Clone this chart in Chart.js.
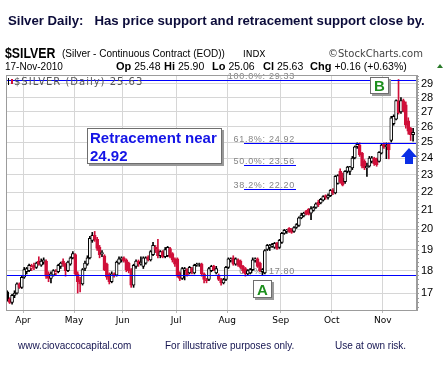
<!DOCTYPE html>
<html>
<head>
<meta charset="utf-8">
<script src="https://cdn.jsdelivr.net/npm/chart.js@4.4.1/dist/chart.umd.min.js"></script>
<style>
  html, body { margin: 0; padding: 0; background: #fff; }
  canvas { display: block; }
</style>
</head>
<body>
<canvas id="silverChart" width="445" height="370"></canvas>
<script>
// daily bars, 23-Mar-2010 .. 17-Nov-2010
const opens = [
  17.05,16.75,16.6,16.9,17.0,17.4,17.25,
  17.7,17.95,18.0,18.1,18.25,18.15,18.45,18.25,18.4,18.45,17.85,17.65,17.8,17.9,17.95,18.2,18.45,18.3,18.0,18.3,18.6,
  18.75,17.85,17.6,17.4,18.1,18.3,18.6,19.45,19.7,19.5,19.1,18.8,18.7,18.3,17.85,17.5,17.85,17.8,18.35,18.5,
  18.6,18.5,18.35,18.05,17.35,18.2,18.45,18.3,18.2,18.35,18.65,18.5,18.75,19.1,19.0,18.7,18.9,18.65,18.7,19.05,18.8,18.55,
  18.55,17.9,17.65,18.0,18.05,17.9,18.1,17.9,18.25,18.3,18.3,17.85,17.6,17.6,18.0,18.2,17.9,17.8,17.6,17.45,17.6,
  18.15,18.5,18.6,18.3,18.5,18.45,18.2,18.1,17.85,17.9,18.05,18.5,18.55,18.35,17.95,17.9,19.0,19.1,19.15,19.1,19.3,19.1,
  19.35,19.8,19.9,20.05,19.95,19.9,20.1,20.2,20.6,20.7,20.95,21.05,20.85,21.0,21.15,21.45,21.4,21.55,21.8,21.7,21.8,
  22.1,21.95,22.5,23.2,22.8,22.6,23.2,23.2,23.4,24.0,24.7,24.8,24.3,23.8,23.4,23.5,23.8,24.0,23.95,23.8,24.3,
  24.85,24.7,24.9,25.1,26.2,26.5,27.75,27.0,27.8,27.5,26.4,25.9,25.48
];
const highs = [
  17.1,16.8,16.95,17.1,17.45,17.45,17.75,
  18.15,18.15,18.3,18.3,18.35,18.4,18.65,18.55,18.6,18.5,17.95,17.95,18.05,18.05,18.3,18.4,18.55,18.35,18.45,18.65,18.9,
  18.8,17.95,17.7,18.1,18.45,18.7,19.65,19.85,19.9,19.6,19.2,18.95,18.75,18.35,17.9,17.95,17.9,18.45,18.65,18.65,
  18.65,18.55,18.4,18.1,18.3,18.5,18.5,18.65,18.65,18.65,18.7,18.95,19.35,19.2,19.5,18.95,18.95,19.1,19.15,19.1,18.85,18.6,
  18.6,17.95,18.15,18.15,18.1,18.2,18.15,18.3,18.35,18.35,18.35,17.9,17.65,18.15,18.25,18.25,18.2,17.85,17.65,17.65,18.2,
  18.6,18.6,18.7,18.6,18.55,18.5,18.25,18.15,18.05,18.1,18.6,18.6,18.6,18.4,18.1,19.0,19.25,19.25,19.3,19.35,19.35,19.5,
  19.85,20.0,20.0,20.1,20.05,20.15,20.3,20.65,20.85,20.9,21.0,21.1,21.2,21.2,21.4,21.55,21.65,21.8,21.85,21.9,22.15,
  22.2,22.95,23.0,23.35,23.1,23.25,23.5,23.5,24.1,24.75,24.95,24.95,24.35,23.9,23.7,24.1,24.1,24.05,24.0,24.4,24.9,
  24.95,24.95,24.95,26.7,26.8,27.85,29.33,28.0,27.9,27.7,26.6,25.95,25.9
];
const lows = [
  16.65,16.55,16.52,16.8,16.95,17.2,17.2,
  17.65,17.85,17.95,18.0,18.05,18.1,18.25,18.2,18.3,17.65,17.5,17.45,17.75,17.8,17.9,18.1,18.2,17.75,17.95,18.25,18.55,
  17.8,17.0,17.05,17.35,18.0,18.25,18.55,19.35,19.4,18.95,18.6,18.65,18.0,17.6,17.4,17.45,17.7,17.75,18.3,18.4,
  18.4,17.95,17.9,17.25,17.25,18.1,18.2,18.25,18.1,18.3,18.45,18.45,18.7,18.85,18.6,18.6,18.6,18.6,18.65,18.6,18.4,18.2,
  17.7,17.55,17.6,17.58,17.75,17.85,17.85,17.85,18.2,18.2,17.75,17.45,17.45,17.55,17.95,18.0,17.85,17.55,17.35,17.4,17.55,
  18.1,18.4,18.25,18.25,18.2,18.1,17.9,17.75,17.8,17.85,18.0,18.4,18.15,17.95,17.8,17.85,18.95,18.95,19.1,19.05,19.0,19.05,
  19.3,19.75,19.8,19.85,19.8,19.85,20.05,20.15,20.55,20.65,20.75,20.75,20.5,20.95,21.1,21.2,21.35,21.5,21.6,21.6,21.75,
  21.85,21.9,22.45,22.5,22.35,22.5,23.1,23.0,23.3,23.95,24.6,24.1,23.4,23.3,22.9,23.45,23.7,23.55,23.5,23.75,24.25,
  24.6,23.96,23.95,25.0,26.1,26.45,26.85,26.9,27.0,25.9,25.5,25.1,25.06
];
const closes = [
  16.7,16.6,16.9,17.0,17.4,17.25,17.7,
  18.05,18.1,18.25,18.2,18.15,18.35,18.3,18.45,18.5,17.75,17.65,17.85,18.0,17.95,18.25,18.35,18.3,18.0,18.4,18.6,18.8,
  17.85,17.5,17.4,18.05,18.35,18.6,19.55,19.7,19.5,19.05,18.75,18.85,18.05,17.7,17.5,17.85,17.8,18.4,18.55,18.6,
  18.45,18.05,18.0,17.35,18.25,18.45,18.3,18.4,18.6,18.6,18.5,18.9,19.2,19.0,18.7,18.9,18.65,19.0,19.1,18.65,18.5,18.3,
  17.76,17.65,18.1,18.1,17.8,18.15,17.95,18.25,18.3,18.32,17.85,17.6,17.55,18.1,18.2,18.05,18.1,17.6,17.45,17.6,18.15,
  18.55,18.55,18.3,18.55,18.25,18.15,18.0,17.85,18.0,18.05,18.5,18.55,18.2,18.0,18.05,18.95,19.2,19.22,19.25,19.3,19.05,19.45,
  19.8,19.95,19.97,19.9,19.85,20.1,20.25,20.6,20.75,20.85,20.8,20.78,21.1,21.15,21.35,21.3,21.6,21.75,21.7,21.8,22.1,
  21.95,22.9,22.95,22.6,22.4,23.2,23.45,23.48,24.0,24.7,24.85,24.2,23.5,23.4,23.5,24.0,24.02,23.65,23.6,24.35,24.8,
  24.7,24.8,24.5,26.6,26.7,27.8,26.95,27.8,27.1,26.1,25.7,25.47,25.63
];

// x axis: month names and the bar index of each month's first session
const months = ['Apr', 'May', 'Jun', 'Jul', 'Aug', 'Sep', 'Oct', 'Nov'];
const monthStart = [7, 28, 48, 70, 91, 113, 134, 155];
const yTicks = [17, 18, 19, 20, 21, 22, 23, 24, 25, 26, 27, 28, 29];

// fibonacci retracement levels
const fibPct = ['100.0%', '61.8%', '50.0%', '38.2%', '0.0%'];
const fibVal = [29.33, 24.92, 23.56, 22.20, 17.80];

const RED = '#d0103a';
const BLACK = '#000';
const GRID = '#d6d6d6';

function candleColor(i) {
    return i > 0 && closes[i] < closes[i - 1] ? RED : BLACK;
}
function candleFill(i) {
    return closes[i] >= opens[i] ? '#fff' : candleColor(i);
}

const wicks = lows.map((l, i) => ({ x: i, y: [l, highs[i]] }));
const bodies = opens.map((o, i) => ({ x: i, y: [Math.min(o, closes[i]), Math.max(o, closes[i])] }));

function boxWithShadow(ctx, x, y, w, h) {
    ctx.fillStyle = '#9a9a9a';
    ctx.fillRect(x + 2, y + 2, w, h);
    ctx.fillStyle = '#fff';
    ctx.fillRect(x, y, w, h);
    ctx.strokeStyle = '#6e6e6e';
    ctx.lineWidth = 1;
    ctx.strokeRect(x + 0.5, y + 0.5, w - 1, h - 1);
}

const decorations = {
    id: 'decorations',
    beforeDatasetsDraw(chart) {
        const { ctx, scales: { y } } = chart;
        ctx.save();
        ctx.font = '9px "Liberation Sans", Arial';
        ctx.letterSpacing = '0.7px';
        ctx.fillStyle = '#858585';
        ctx.textAlign = 'right';
        fibVal.forEach((v, k) => {
            const py = Math.round(y.getPixelForValue(v)) + 0.5;
            ctx.fillText(fibPct[k] + ': ' + v.toFixed(2), 295, py - 2);
        });
        ctx.restore();
    },
    afterDatasetsDraw(chart) {
        const { ctx, chartArea: a, scales: { y } } = chart;
        ctx.save();
        ctx.strokeStyle = '#0000ff';
        ctx.lineWidth = 1;
        fibVal.forEach((v, k) => {
            const py = Math.round(y.getPixelForValue(v)) + 0.5;
            let x0 = 244, x1 = 296;
            if (k === 0 || k === 4) { x0 = a.left; x1 = a.right; }
            if (k === 1) { x1 = a.right; }
            ctx.beginPath();
            ctx.moveTo(x0, py);
            ctx.lineTo(x1, py);
            ctx.stroke();
        });

        // plot frame
        ctx.strokeStyle = '#9c9c9c';
        ctx.strokeRect(a.left + 0.5, a.top + 0.5, a.right - a.left - 1, a.bottom - a.top);

        // minor ticks on the price axis
        for (let v = 16.4; v < 29.6; v += 0.2) {
            const py = Math.round(y.getPixelForValue(v)) + 0.5;
            ctx.beginPath();
            ctx.moveTo(a.right, py);
            ctx.lineTo(a.right + 2, py);
            ctx.stroke();
        }

        // legend inside plot
        ctx.fillStyle = '#000';
        ctx.fillRect(8, 78, 1, 7);
        ctx.fillStyle = RED;
        ctx.fillRect(11, 79, 2, 5);
        ctx.font = '10px "DejaVu Sans"';
        ctx.letterSpacing = '1px';
        ctx.fillStyle = '#555';
        ctx.textAlign = 'left';
        ctx.fillText('$SILVER (Daily) 25.63', 14, 85);
        ctx.letterSpacing = '0px';

        // retracement note
        boxWithShadow(ctx, 87, 128, 135, 36);
        ctx.font = 'bold 15px "Liberation Sans", Arial';
        ctx.fillStyle = '#1414e6';
        ctx.fillText('Retracement near', 90, 143);
        ctx.fillText('24.92', 90, 161);

        // A / B markers
        ctx.textAlign = 'center';
        boxWithShadow(ctx, 370, 77, 19, 17);
        ctx.fillStyle = '#1d8f1d';
        ctx.fillText('B', 379.5, 91);
        boxWithShadow(ctx, 253, 280, 19, 18);
        ctx.fillStyle = '#1d8f1d';
        ctx.fillText('A', 262.5, 295);

        // blue arrow
        ctx.fillStyle = '#0a2ee6';
        ctx.beginPath();
        ctx.moveTo(409, 148);
        ctx.lineTo(417, 157);
        ctx.lineTo(413, 157);
        ctx.lineTo(413, 164);
        ctx.lineTo(405, 164);
        ctx.lineTo(405, 157);
        ctx.lineTo(401, 157);
        ctx.closePath();
        ctx.fill();
        ctx.restore();
    },
    afterDraw(chart) {
        const ctx = chart.ctx;
        ctx.save();
        ctx.textAlign = 'left';

        ctx.font = 'bold 13.2px "Liberation Sans", Arial';
        ctx.fillStyle = '#0c0c3a';
        ctx.fillText('Silver Daily:   Has price support and retracement support close by.', 8, 25);

        ctx.fillStyle = '#000';
        ctx.save();
        ctx.translate(5, 58);
        ctx.scale(0.88, 1);
        ctx.font = 'bold 14px "Liberation Sans", Arial';
        ctx.fillText('$SILVER', 0, 0);
        ctx.restore();
        ctx.font = '10px "Liberation Sans", Arial';
        ctx.fillText('(Silver - Continuous Contract (EOD))', 62, 57);
        ctx.font = '9px "DejaVu Sans"';
        ctx.fillText('INDX', 243, 57);
        ctx.fillStyle = '#444';
        ctx.font = '10px "DejaVu Sans"';
        ctx.fillText('\u00a9StockCharts.com', 328, 57);

        ctx.fillStyle = '#000';
        ctx.font = '10px "Liberation Sans", Arial';
        ctx.fillText('17-Nov-2010', 5, 70);

        const parts = [['Op', '25.48', 116], ['Hi', '25.90', 164], ['Lo', '25.06', 212],
                       ['Cl', '25.63', 263], ['Chg', '+0.16 (+0.63%)', 310]];
        parts.forEach(([lab, val, px]) => {
            ctx.font = 'bold 11px "Liberation Sans", Arial';
            ctx.fillText(lab, px, 70);
            const w = ctx.measureText(lab).width;
            ctx.font = '10.5px "Liberation Sans", Arial';
            ctx.fillText(val, px + w + 3, 70);
        });
        ctx.fillStyle = '#2a7a2a';
        ctx.beginPath();
        ctx.moveTo(437, 68);
        ctx.lineTo(443, 68);
        ctx.lineTo(440, 64);
        ctx.closePath();
        ctx.fill();

        ctx.font = '10px "Liberation Sans", Arial';
        ctx.fillStyle = '#141450';
        ctx.fillText('www.ciovaccocapital.com', 18, 349);
        ctx.fillText('For illustrative purposes only.', 165, 349);
        ctx.fillText('Use at own risk.', 335, 349);
        ctx.restore();
    }
};

new Chart(document.getElementById('silverChart'), {
    type: 'bar',
    data: {
        datasets: [
            {
                label: 'bodies',
                data: bodies,
                order: 1,
                grouped: false,
                barThickness: 3,
                borderWidth: 1,
                borderSkipped: false,
                borderColor: c => candleColor(c.dataIndex),
                backgroundColor: c => candleFill(c.dataIndex)
            },
            {
                label: 'wicks',
                data: wicks,
                order: 2,
                grouped: false,
                barThickness: 1,
                borderWidth: 0,
                backgroundColor: c => candleColor(c.dataIndex)
            }
        ]
    },
    options: {
        responsive: false,
        animation: false,
        events: [],
        layout: { padding: { left: 6, top: 75, right: 0, bottom: 0 } },
        plugins: { legend: { display: false }, tooltip: { enabled: false } },
        scales: {
            x: {
                type: 'linear',
                offset: false,
                min: -0.5,
                max: 168.6,
                afterBuildTicks: s => { s.ticks = monthStart.map(i => ({ value: i - 0.5 })); },
                afterFit: s => { s.height = 60; },
                ticks: {
                    autoSkip: false,
                    maxRotation: 0,
                    padding: 2,
                    color: '#000',
                    font: { size: 9, family: '"DejaVu Sans"' },
                    callback: v => months[monthStart.indexOf(v + 0.5)]
                },
                grid: { color: GRID, offset: false, tickLength: 3, tickColor: '#bbb' },
                border: { color: '#9c9c9c' }
            },
            y: {
                type: 'logarithmic',
                position: 'right',
                min: 16.28,
                max: 29.67,
                afterBuildTicks: s => { s.ticks = yTicks.map(v => ({ value: v })); },
                afterFit: s => { s.width = 28; },
                ticks: {
                    padding: 4,
                    color: '#000',
                    font: { size: 11, family: '"Liberation Sans", Arial' },
                    callback: v => String(v)
                },
                grid: { color: GRID, drawTicks: false },
                border: { color: '#9c9c9c' }
            }
        }
    },
    plugins: [decorations]
});
</script>
</body>
</html>
